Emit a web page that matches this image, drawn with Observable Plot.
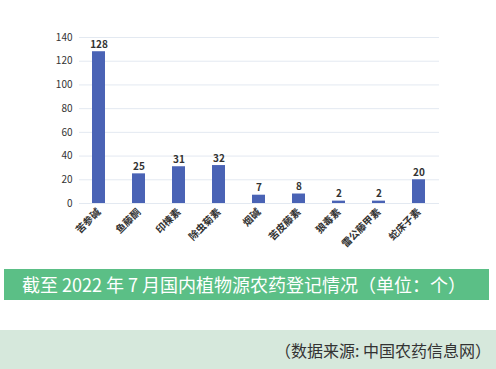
<!DOCTYPE html>
<html><head><meta charset="utf-8">
<script src="https://cdn.jsdelivr.net/npm/d3@7"></script>
<script src="https://cdn.jsdelivr.net/npm/@observablehq/plot@0.6"></script>
<style>
body{margin:0;background:#fff;width:496px;height:369px;overflow:hidden;position:relative;font-family:"Noto Sans CJK SC","Noto Sans",sans-serif;}
#chart{position:absolute;left:0;top:0;}
#banner{position:absolute;left:4px;top:269px;width:485px;height:31px;background:#5bbf86;color:#fff;font-size:18px;line-height:31px;padding-left:18px;box-sizing:border-box;white-space:nowrap;}
#source{position:absolute;left:0;top:330px;width:496px;height:39px;background:#d6e8dc;color:#333;font-size:16px;line-height:40px;text-align:right;padding-right:5px;box-sizing:border-box;white-space:nowrap;}
</style></head>
<body>
<div id="chart"></div>
<div id="banner">截至 2022 年 7 月国内植物源农药登记情况（单位：个）</div>
<div id="source">（数据来源: 中国农药信息网）</div>
<script>
const categories = ["苦参碱","鱼藤酮","印楝素","除虫菊素","烟碱","苦皮藤素","狼毒素","雷公藤甲素","蛇床子素"];
const values = [128,25,31,32,7,8,2,2,20];
const yTicks = [0,20,40,60,80,100,120,140];
const data = categories.map((c,i)=>({name:c,value:values[i]}));
const chart = Plot.plot({
  width:496, height:262,
  marginLeft:79, marginRight:57, marginTop:37, marginBottom:59,
  style:{fontFamily:"'Noto Sans CJK SC','Noto Sans',sans-serif", background:"transparent", color:"#333"},
  x:{domain:categories, paddingInner:0.67, paddingOuter:0.335, label:null},
  y:{domain:[0,140], ticks:yTicks, label:null},
  marks:[
    Plot.ruleY(yTicks,{stroke:"#e3e9f1", strokeWidth:1}),
    Plot.barY(data,{x:"name", y:"value", fill:"#4a63b5"}),
    Plot.text(data,{x:"name", y:"value", text:d=>String(d.value), dy:-7, fontSize:10, fontWeight:"bold", fill:"#333"}),
    Plot.axisY({ticks:yTicks, tickSize:0, tickPadding:7, fontSize:10, label:null}),
    Plot.axisX({tickSize:0, tickPadding:7, tickRotate:-45, fontSize:10, fontWeight:"bold", label:null})
  ]
});
document.getElementById("chart").appendChild(chart);
</script>
</body></html>
